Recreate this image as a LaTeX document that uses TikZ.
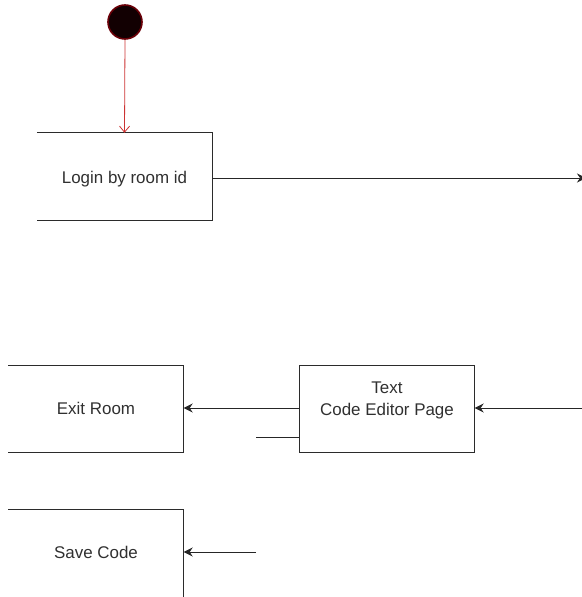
\documentclass[tikz,border=0pt]{standalone}
\usepackage{fontspec}
\setmainfont{Liberation Sans}
\usetikzlibrary{arrows.meta}
\definecolor{boxline}{HTML}{2B2B2B}
\definecolor{txt}{HTML}{303030}
\definecolor{startrim}{HTML}{6A0008}
\definecolor{startfill}{HTML}{120002}
\definecolor{flowred}{HTML}{CC3333}
\begin{document}
\begin{tikzpicture}[x=1bp,y=-1bp,
  state/.style={inner sep=0pt, minimum width=175bp, minimum height=87bp},
  caption/.style={inner sep=0pt, align=center, text=txt,
    font=\fontsize{17}{22}\selectfont},
  edge/.style={line width=0.8bp, draw=black!85},
  flow/.style={edge, -{Stealth[length=9bp,width=9bp,inset=3bp]}},
  startdot/.style={circle, fill=startfill, draw=startrim, line width=1.6bp,
    minimum size=34bp, inner sep=0pt}
]
\useasboundingbox (0,0) rectangle (582,597);
\clip (0,0) rectangle (582,597);

% initial state
\node[startdot] (start) at (125,22) {};

% states
\node[state] (login)  at (124.5,176.5) {};
\node[state] (exit)   at (96,409)  {};
\node[state] (editor) at (387,409) {};
\node[state] (save)   at (96,553.5) {};

% state captions
\node[caption] (loginText)  at ([yshift=-3bp]login.center)  {Login by room id};
\node[caption] (exitText)   at ([yshift=1bp]exit.center)    {Exit Room};
\node[caption] (editorText) at ([yshift=9bp]editor.center)  {Text\\Code Editor Page};
\node[caption] (saveText)   at ([yshift=1.5bp]save.center)  {Save Code};

% state outlines
\draw[boxline, line width=1.3bp]
  (login.north west) -- (login.north east) -- (login.south east) -- (login.south west);
\draw[boxline, line width=1.3bp]
  (exit.north west) -- (exit.north east) -- (exit.south east) -- (exit.south west);
\draw[boxline, line width=1.3bp] (editor.north west) rectangle (editor.south east);
\draw[boxline, line width=1.3bp]
  (save.north west) -- (save.north east) -- (save.south east);

% loose ends of connectors
\coordinate (loginOut) at (586,178);
\coordinate (editorIn) at (586,408);
\coordinate (stubA) at (256,437);
\coordinate (stubB) at (256,552);

% connectors
\draw[flowred, line width=0.8bp, -{Straight Barb[length=6bp,width=10bp]}]
  (start.south) -- (login.north);
\draw[flow] (login.east |- loginOut) -- (loginOut);
\draw[flow] (editor.west |- 0,408) -- (exit.east |- 0,408);
\draw[flow] (editorIn) -- (editor.east |- editorIn);
\draw[edge] (stubA) -- (editor.west |- stubA);
\draw[flow] (stubB) -- (save.east |- stubB);
\end{tikzpicture}
\end{document}
